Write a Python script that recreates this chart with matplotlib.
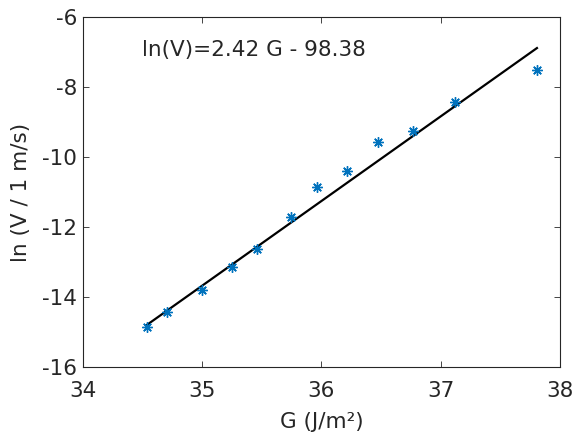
import numpy as np
import matplotlib.pyplot as plt

# Data
G = [34.535, 34.708, 35.001, 35.252, 35.464, 35.743, 35.963, 36.217,
     36.479, 36.772, 37.121, 37.807]
lnV = [-14.87, -14.42, -13.80, -13.13, -12.64, -11.71, -10.87, -10.40,
       -9.56, -9.26, -8.44, -7.52]

# Linear fit coefficients shown on the chart
slope = 2.42
intercept = -98.38

xticks = [34, 35, 36, 37, 38]
yticks = [-16, -14, -12, -10, -8, -6]

txt_color = "#262626"
plt.rcParams['font.family'] = ['DejaVu Sans']

fig = plt.figure(figsize=(5.77, 4.34), dpi=100)
ax = fig.add_axes([0.1433, 0.1544, 0.8272, 0.8064])

# fitted line
xfit = np.array([min(G), max(G)])
ax.plot(xfit, slope * xfit + intercept, color="black", linewidth=1.6, zorder=2)

# data points (MATLAB style asterisks)
ax.plot(G, lnV, linestyle="none", marker=(8, 2, 0), markersize=7.5,
        markeredgewidth=1.0, color="#0072BD", zorder=3)

ax.text(34.5, -6.94, "ln(V)=2.42 G - 98.38", fontsize=15.5, color=txt_color,
        va="center", ha="left")

ax.set_xlim(34, 38)
ax.set_ylim(-16, -6)
ax.set_xticks(xticks)
ax.set_yticks(yticks)
ax.set_xticklabels([str(t) for t in xticks])
ax.set_yticklabels([str(t) for t in yticks])

ax.tick_params(direction="in", length=4, width=0.6, colors=txt_color,
               labelsize=15.5, top=True, right=True)
ax.tick_params(axis="x", pad=10)
ax.tick_params(axis="y", pad=4)
for s in ax.spines.values():
    s.set_color(txt_color)
    s.set_linewidth(0.8)

ax.set_xlabel("G (J/m²)", fontsize=15.5, color=txt_color, labelpad=8)
ax.set_ylabel("ln (V / 1 m/s)", fontsize=15.5, color=txt_color, labelpad=8)

fig.savefig("out.png", dpi=100)
